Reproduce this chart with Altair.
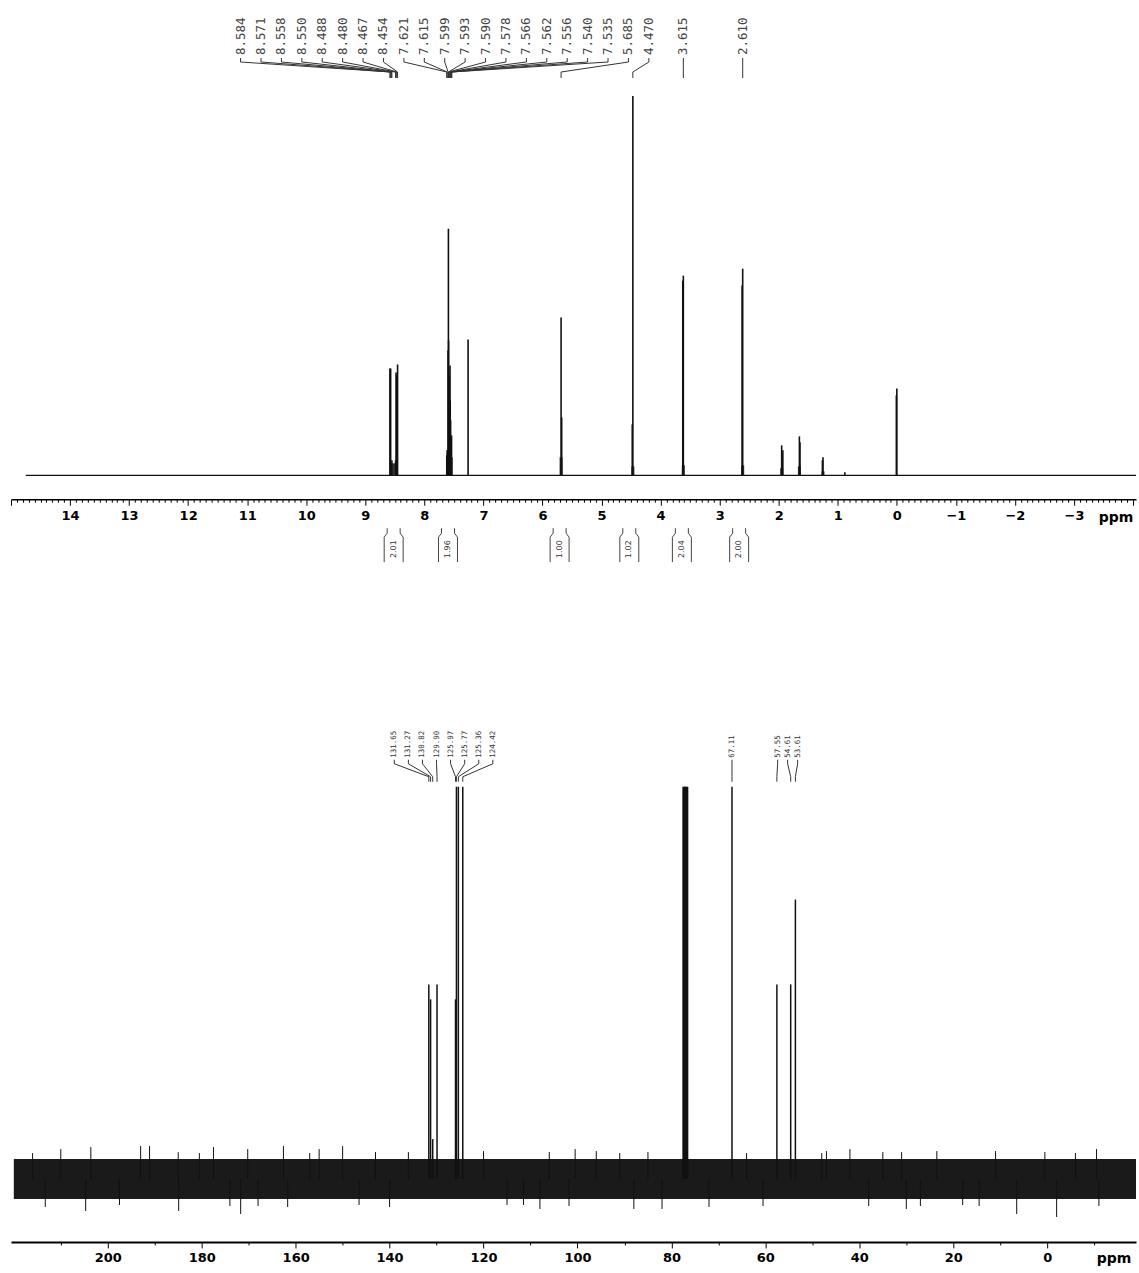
import altair as alt
import pandas as pd

# ---------------- 1H spectrum data ----------------
H_PPM = [8.584, 8.571, 8.558, 8.550, 8.488, 8.480, 8.467, 8.454,
         7.621, 7.615, 7.599, 7.593, 7.590, 7.578, 7.566, 7.562, 7.556, 7.540, 7.535,
         7.260, 5.685, 5.675, 4.470, 4.480, 3.615, 3.625, 2.610, 2.620,
         1.950, 1.930, 1.650, 1.640, 1.250, 1.260, 0.000, 0.008, 0.880]
H_INT = [107, 107, 12, 15, 15, 103, 100, 111,
         20, 25, 125, 247, 135, 100, 110, 75, 55, 40, 18,
         136, 158, 58, 380, 51, 200, 195, 207, 190,
         30, 25, 39, 33, 18, 15, 87, 80, 3]
H_FEET_PPM = [8.52, 7.60, 5.685, 4.47, 3.615, 2.61, 1.95, 1.65, 1.25]
H_FEET_INT = [12, 15, 18, 9, 10, 10, 7, 9, 4]
H_LABELS = ["8.584", "8.571", "8.558", "8.550", "8.488", "8.480", "8.467", "8.454",
            "7.621", "7.615", "7.599", "7.593", "7.590", "7.578", "7.566", "7.562",
            "7.556", "7.540", "7.535", "5.685", "4.470", "3.615", "2.610"]
INT_CENTER = [8.52, 7.60, 5.71, 4.53, 3.64, 2.67]
INT_VALUE = ["2.01", "1.96", "1.00", "1.02", "2.04", "2.00"]

# ---------------- 13C spectrum data ----------------
C_PPM = [131.65, 131.27, 130.82, 129.90, 125.97, 125.77, 125.36, 124.42,
         77.36, 77.04, 76.72, 67.11, 57.55, 54.61, 53.61]
C_INT = [195, 180, 40, 195, 180, 393, 393, 393,
         393, 393, 393, 393, 195, 195, 280]
C_LABELS = ["131.65", "131.27", "130.82", "129.90", "125.97", "125.77", "125.36",
            "124.42", "67.11", "57.55", "54.61", "53.61"]
SPIKE_PPM = [210.0, 203.6, 193.0, 191.1, 177.5, 170.2, 162.6, 150.0, 204.7, 184.9,
             171.7, 161.7, 213.3, 108.0, 120.0, 100.5, 88.0, 42.0, 30.0, 23.5,
             6.5, -2.0, -10.5, 96.0, 82.0, 47.0, 140.0, 155.0,
             185.0, 168.0, 157.0, 143.0, 115.0, 106.0, 101.8, 91.0, 85.0, 72.0,
             60.5, 48.0, 38.0, 31.0, 18.0, 11.0, 0.5, -11.0, 197.5, 180.5,
             136.0, 111.5, 64.0, 35.0, 14.5, -6.0, 216.0, 174.0, 146.5, 27.0]
SPIKE_INT = [30, 32, 33, 33, 32, 30, 33, 33, -32, -32,
             -35, -28, -28, -30, 28, 30, -30, 30, -30, 28,
             -35, -38, 30, 28, -30, 28, -28, 30,
             27, -27, 26, 27, -26, 27, -27, 26, 27, -28,
             -27, 26, -27, 27, -26, 28, 27, -27, -26, 26,
             27, -26, 26, 27, -27, 26, 26, -27, -26, -27]

# ---------------- layout helpers ----------------
PANEL_W = 1127
LEFT_PX = 10
H_DOM = [15.0, -4.05]
H_PXPPM = PANEL_W / (H_DOM[0] - H_DOM[1])
C_DOM = [220.6, -18.9]
C_PXPPM = PANEL_W / (C_DOM[0] - C_DOM[1])


def h_ppm(px):
    return H_DOM[0] - (px - LEFT_PX) / H_PXPPM


def c_ppm(px):
    return C_DOM[0] - (px - LEFT_PX) / C_PXPPM


LINE = "#111111"

# ================= top (1H) panel =================
HY = alt.Scale(domain=[-24, 475], nice=False, zero=False)
h_ticks = [round(15 - 0.1 * i, 1) for i in range(0, 191)]
h_axis = alt.Axis(
    values=h_ticks,
    labelExpr="abs(datum.value - round(datum.value)) < 0.01 && datum.value > -3.5 && datum.value < 14.5 ? format(datum.value, 'd') : ''",
    tickSize={"condition": {"test": "abs(datum.value - round(datum.value)) < 0.01", "value": 6}, "value": 3},
    labelFont="DejaVu Sans", labelFontWeight="bold", labelFontSize=13, labelColor="black",
    labelPadding=4, labelOverlap=False, labelFlush=False, labelBound=False,
    domainColor="black", domainWidth=1.5, tickColor="black", tickWidth=1,
    title=None, grid=False)
HX = alt.X("ppm:Q", scale=alt.Scale(domain=H_DOM, nice=False, zero=False), axis=h_axis)


def hy(field):
    return alt.Y(field, scale=HY, axis=None)


base_df = pd.DataFrame({"ppm": [14.75, -4.05], "y": [0, 0]})
baseline = alt.Chart(base_df).mark_line(color=LINE, strokeWidth=1.2).encode(x=HX, y=hy("y:Q"))

peaks_df = pd.DataFrame({"ppm": H_PPM, "y": [0] * len(H_PPM), "h": H_INT})
peaks = alt.Chart(peaks_df).mark_rule(color=LINE, strokeWidth=1.6).encode(
    x=HX, y=hy("y:Q"), y2="h:Q")

feet_df = pd.DataFrame({"ppm": H_FEET_PPM, "y": [0] * len(H_FEET_PPM), "h": H_FEET_INT})
feet = alt.Chart(feet_df).mark_rule(color="#333333", strokeWidth=3).encode(
    x=HX, y=hy("y:Q"), y2="h:Q")

# peak label positions
h_label_pos = []
for i, lab in enumerate(H_LABELS):
    if i < 20:
        h_label_pos.append(h_ppm(240 + 20.45 * i))
    elif lab == "4.470":
        h_label_pos.append(h_ppm(649))
    else:
        h_label_pos.append(float(lab))

lead_rows = []
for i, lab in enumerate(H_LABELS):
    pk = float(lab)
    lx = h_label_pos[i]
    for s, (xx, yy) in enumerate([(lx, 418), (lx, 414), (pk, 404), (pk, 398)]):
        lead_rows.append({"id": i, "seq": s, "ppm": xx, "y": yy})
lead_df = pd.DataFrame(lead_rows)
leaders = alt.Chart(lead_df).mark_line(color="#333333", strokeWidth=1).encode(
    x=HX, y=hy("y:Q"), detail="id:N", order="seq:Q")

lab_df = pd.DataFrame({"ppm": h_label_pos, "y": [421] * len(H_LABELS), "t": H_LABELS})
labels = alt.Chart(lab_df).mark_text(
    angle=270, align="left", baseline="middle", font="DejaVu Sans Mono",
    fontSize=12.5, color="#444444").encode(x=HX, y=hy("y:Q"), text="t:N")

# integrals: bracket lines with a small kink at the top
br_rows = []
k = 0
for c in INT_CENTER:
    for side in (-1, 1):
        pts = [(c + side * 6.5 / H_PXPPM, -53), (c + side * 6.5 / H_PXPPM, -58),
               (c + side * 9.5 / H_PXPPM, -62), (c + side * 9.5 / H_PXPPM, -87)]
        for s, (xx, yy) in enumerate(pts):
            br_rows.append({"id": k, "seq": s, "ppm": xx, "y": yy})
        k += 1
br_df = pd.DataFrame(br_rows)
brackets = alt.Chart(br_df).mark_line(color="#444444", strokeWidth=1).encode(
    x=HX, y=hy("y:Q"), detail="id:N", order="seq:Q")
int_df = pd.DataFrame({"ppm": INT_CENTER, "y": [-74] * len(INT_CENTER), "t": INT_VALUE})
int_text = alt.Chart(int_df).mark_text(
    angle=270, align="center", baseline="middle", font="DejaVu Sans",
    fontSize=8, color="#333333").encode(x=HX, y=hy("y:Q"), text="t:N")

ppm_df = pd.DataFrame({"ppm": [h_ppm(1117)], "y": [-43], "t": ["ppm"]})
ppm_text = alt.Chart(ppm_df).mark_text(
    align="center", baseline="middle", font="DejaVu Sans", fontWeight="bold",
    fontSize=14, color="black").encode(x=HX, y=hy("y:Q"), text="t:N")

top = alt.layer(baseline, feet, peaks, leaders, labels, brackets, int_text, ppm_text).properties(
    width=PANEL_W, height=499)

# ================= bottom (13C) panel =================
C_H = 643
CY = alt.Scale(domain=[-63, 580], nice=False, zero=False)
c_ticks = list(range(210, -20, -10))
c_axis = alt.Axis(
    values=c_ticks,
    labelExpr="datum.value % 20 == 0 && datum.value >= 0 && datum.value <= 200 ? format(datum.value, 'd') : ''",
    tickSize={"condition": {"test": "datum.value % 20 == 0", "value": 6}, "value": 3},
    labelFont="DejaVu Sans", labelFontWeight="bold", labelFontSize=13, labelColor="black",
    labelPadding=4, labelOverlap=False, labelFlush=False, labelBound=False,
    domainColor="black", domainWidth=2, tickColor="black", tickWidth=1,
    title=None, grid=False)
CX = alt.X("ppm:Q", scale=alt.Scale(domain=C_DOM, nice=False, zero=False), axis=c_axis)


def cy(field):
    return alt.Y(field, scale=CY, axis=None)


band_df = pd.DataFrame({"ppm": [220.0, -18.9], "lo": [-20, -20], "hi": [20, 20]})
band = alt.Chart(band_df).mark_area(color="#1a1a1a").encode(x=CX, y=cy("lo:Q"), y2="hi:Q")

spk_df = pd.DataFrame({"ppm": SPIKE_PPM, "y": [0] * len(SPIKE_PPM), "h": SPIKE_INT})
spikes = alt.Chart(spk_df).mark_rule(color=LINE, strokeWidth=1).encode(
    x=CX, y=cy("y:Q"), y2="h:Q")

cpk_df = pd.DataFrame({"ppm": C_PPM, "y": [0] * len(C_PPM), "h": C_INT,
                       "w": [1.5] * 8 + [3, 3, 3] + [1.5] * 4})
cpeaks = alt.Chart(cpk_df).mark_rule(color=LINE).encode(
    x=CX, y=cy("y:Q"), y2="h:Q", strokeWidth=alt.StrokeWidth("w:Q", scale=None))

c_label_pos = []
for i, lab in enumerate(C_LABELS):
    if i < 8:
        c_label_pos.append(c_ppm(394 + 14.1 * i))
    elif lab == "57.55":
        c_label_pos.append(c_ppm(778))
    elif lab == "54.61":
        c_label_pos.append(c_ppm(788))
    elif lab == "53.61":
        c_label_pos.append(c_ppm(798))
    else:
        c_label_pos.append(float(lab))

clead_rows = []
for i, lab in enumerate(C_LABELS):
    pk = float(lab)
    lx = c_label_pos[i]
    for s, (xx, yy) in enumerate([(lx, 420), (lx, 416), (pk, 403), (pk, 398)]):
        clead_rows.append({"id": i, "seq": s, "ppm": xx, "y": yy})
clead_df = pd.DataFrame(clead_rows)
cleaders = alt.Chart(clead_df).mark_line(color="#333333", strokeWidth=1).encode(
    x=CX, y=cy("y:Q"), detail="id:N", order="seq:Q")

clab_df = pd.DataFrame({"ppm": c_label_pos, "y": [422] * len(C_LABELS), "t": C_LABELS})
clabels = alt.Chart(clab_df).mark_text(
    angle=270, align="left", baseline="middle", font="DejaVu Sans Mono",
    fontSize=7.5, color="#333333").encode(x=CX, y=cy("y:Q"), text="t:N")

cppm_df = pd.DataFrame({"ppm": [c_ppm(1115)], "y": [-80], "t": ["ppm"]})
cppm_text = alt.Chart(cppm_df).mark_text(
    align="center", baseline="middle", font="DejaVu Sans", fontWeight="bold",
    fontSize=14, color="black").encode(x=CX, y=cy("y:Q"), text="t:N")

bottom = alt.layer(band, spikes, cpeaks, cleaders, clabels, cppm_text).properties(
    width=PANEL_W, height=C_H)

chart = alt.vconcat(top, bottom, spacing=36).properties(
    padding={"left": LEFT_PX, "top": 0, "right": 0, "bottom": 0},
    background="white",
).configure_view(strokeWidth=0)

chart.save("out.html", embed_options={"renderer": "svg", "actions": False})
